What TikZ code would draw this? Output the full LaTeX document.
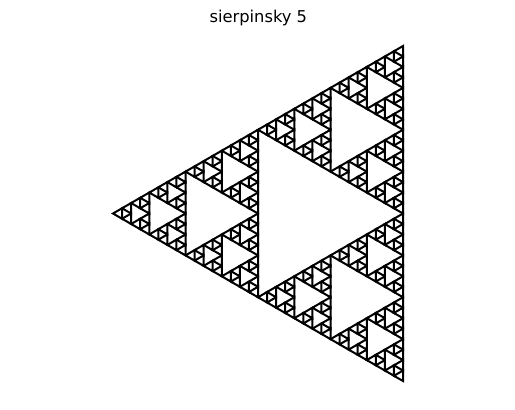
\documentclass[tikz,border=0pt]{standalone}
\usepackage{fontspec}
\setmainfont{DejaVu Sans}
\tikzset{tri/.style={draw=black,line width=2bp,line join=miter}}
\makeatletter
\def\sierp#1#2#3#4#5#6#7{%
  \ifnum#1=0
    \draw[tri] (#2,#3)--(#4,#5)--(#6,#7)--cycle;
  \else
    \begingroup
      \pgfmathsetmacro\mABx{(#2+#4)/2}\pgfmathsetmacro\mABy{(#3+#5)/2}%
      \pgfmathsetmacro\mBCx{(#4+#6)/2}\pgfmathsetmacro\mBCy{(#5+#7)/2}%
      \pgfmathsetmacro\mCAx{(#6+#2)/2}\pgfmathsetmacro\mCAy{(#7+#3)/2}%
      \pgfmathtruncatemacro\lvl{#1-1}%
      \edef\next{%
        \noexpand\sierp{\lvl}{#2}{#3}{\mABx}{\mABy}{\mCAx}{\mCAy}%
        \noexpand\sierp{\lvl}{\mABx}{\mABy}{#4}{#5}{\mBCx}{\mBCy}%
        \noexpand\sierp{\lvl}{\mCAx}{\mCAy}{\mBCx}{\mBCy}{#6}{#7}%
      }%
      \next
    \endgroup
  \fi}
\makeatother
\begin{document}
\begin{tikzpicture}[x=1bp,y=-1bp]
\useasboundingbox (0,0) rectangle (515,409);
\node[font=\fontsize{16.3bp}{19bp}\selectfont,anchor=base,inner sep=0pt] (title) at (258.3,22.3) {sierpinsky 5};
\sierp{5}{113}{213.5}{403}{46}{403}{381}
\end{tikzpicture}
\end{document}
